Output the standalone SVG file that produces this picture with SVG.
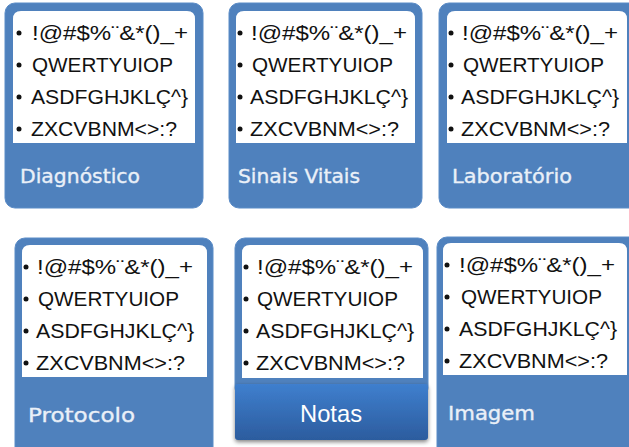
<svg xmlns="http://www.w3.org/2000/svg" width="629" height="447" viewBox="0 0 629 447">
<defs>
<style>
.frame{fill:#4f81bd;stroke:#5b8cc7;stroke-width:1}
.inner{fill:#ffffff}
.t{font-family:"Liberation Sans",Arial,sans-serif;font-size:21px;fill:#111111}
.b{fill:#111111}
.lbl{font-family:"DejaVu Sans",sans-serif;font-size:19px;fill:#eaf0f8;stroke:#eaf0f8;stroke-width:0.35}
.btn{font-family:"Liberation Sans",Arial,sans-serif;font-size:24px;fill:#ffffff}
</style>
<linearGradient id="g" x1="0" y1="0" x2="0" y2="1">
<stop offset="0" stop-color="#3f7fce"/>
<stop offset="1" stop-color="#2c5c9e"/>
</linearGradient>
<filter id="sh" x="-10%" y="-20%" width="120%" height="150%">
<feGaussianBlur in="SourceAlpha" stdDeviation="2"/>
<feOffset dy="2"/>
<feComponentTransfer><feFuncA type="linear" slope="0.5"/></feComponentTransfer>
<feMerge><feMergeNode/><feMergeNode in="SourceGraphic"/></feMerge>
</filter>
</defs>
<rect width="629" height="447" fill="#ffffff"/>

<g id="node-diagnostico">
<rect class="frame" x="5" y="3" width="198" height="205" rx="10"/>
<path class="inner" d="M13 143 V19 Q13 11 21 11 H187 Q195 11 195 19 V143 Z"/>
<circle class="b" cx="19" cy="33" r="2.5"/><text class="t" x="32" y="40" textLength="156" lengthAdjust="spacingAndGlyphs">!@#$%¨&amp;*()_+</text>
<circle class="b" cx="19" cy="65" r="2.5"/><text class="t" x="32" y="72" textLength="141" lengthAdjust="spacingAndGlyphs">QWERTYUIOP</text>
<circle class="b" cx="19" cy="97" r="2.5"/><text class="t" x="31" y="104" textLength="157" lengthAdjust="spacingAndGlyphs">ASDFGHJKLÇ^}</text>
<circle class="b" cx="19" cy="129" r="2.5"/><text class="t" x="31" y="136" textLength="146" lengthAdjust="spacingAndGlyphs">ZXCVBNM&lt;&gt;:?</text>
<text class="lbl" x="20" y="183" textLength="120" lengthAdjust="spacingAndGlyphs">Diagnóstico</text>
</g>

<g id="node-sinais-vitais">
<rect class="frame" x="229" y="3" width="193" height="205" rx="10"/>
<path class="inner" d="M236 143 V19 Q236 11 244 11 H407 Q415 11 415 19 V143 Z"/>
<circle class="b" cx="240" cy="33" r="2.5"/><text class="t" x="251" y="40" textLength="156" lengthAdjust="spacingAndGlyphs">!@#$%¨&amp;*()_+</text>
<circle class="b" cx="240" cy="65" r="2.5"/><text class="t" x="252" y="72" textLength="141" lengthAdjust="spacingAndGlyphs">QWERTYUIOP</text>
<circle class="b" cx="240" cy="97" r="2.5"/><text class="t" x="250" y="104" textLength="158" lengthAdjust="spacingAndGlyphs">ASDFGHJKLÇ^}</text>
<circle class="b" cx="240" cy="129" r="2.5"/><text class="t" x="250" y="136" textLength="149" lengthAdjust="spacingAndGlyphs">ZXCVBNM&lt;&gt;:?</text>
<text class="lbl" x="238" y="183" textLength="122" lengthAdjust="spacingAndGlyphs">Sinais Vitais</text>
</g>

<g id="node-laboratorio">
<rect class="frame" x="439" y="3" width="200" height="205" rx="10"/>
<path class="inner" d="M447 143 V19 Q447 11 455 11 H619 Q627 11 627 19 V143 Z"/>
<circle class="b" cx="451" cy="33" r="2.5"/><text class="t" x="462" y="40" textLength="156" lengthAdjust="spacingAndGlyphs">!@#$%¨&amp;*()_+</text>
<circle class="b" cx="451" cy="65" r="2.5"/><text class="t" x="463" y="72" textLength="141" lengthAdjust="spacingAndGlyphs">QWERTYUIOP</text>
<circle class="b" cx="451" cy="97" r="2.5"/><text class="t" x="461" y="104" textLength="158" lengthAdjust="spacingAndGlyphs">ASDFGHJKLÇ^}</text>
<circle class="b" cx="451" cy="129" r="2.5"/><text class="t" x="461" y="136" textLength="149" lengthAdjust="spacingAndGlyphs">ZXCVBNM&lt;&gt;:?</text>
<text class="lbl" x="452" y="183" textLength="120" lengthAdjust="spacingAndGlyphs">Laboratório</text>
</g>

<g id="node-protocolo">
<rect class="frame" x="15" y="238" width="198" height="220" rx="10"/>
<path class="inner" d="M22 377 V253 Q22 245 30 245 H199 Q207 245 207 253 V377 Z"/>
<circle class="b" cx="26" cy="267" r="2.5"/><text class="t" x="37" y="274" textLength="156" lengthAdjust="spacingAndGlyphs">!@#$%¨&amp;*()_+</text>
<circle class="b" cx="26" cy="299" r="2.5"/><text class="t" x="38" y="306" textLength="141" lengthAdjust="spacingAndGlyphs">QWERTYUIOP</text>
<circle class="b" cx="26" cy="331" r="2.5"/><text class="t" x="36" y="338" textLength="158" lengthAdjust="spacingAndGlyphs">ASDFGHJKLÇ^}</text>
<circle class="b" cx="26" cy="363" r="2.5"/><text class="t" x="36" y="370" textLength="149" lengthAdjust="spacingAndGlyphs">ZXCVBNM&lt;&gt;:?</text>
<text class="lbl" x="28" y="422" textLength="107" lengthAdjust="spacingAndGlyphs">Protocolo</text>
</g>

<g id="node-notas">
<rect class="frame" x="235" y="238" width="193" height="160" rx="10"/>
<path class="inner" d="M242 378 V253 Q242 245 250 245 H415 Q423 245 423 253 V378 Z"/>
<circle class="b" cx="246" cy="267" r="2.5"/><text class="t" x="257" y="274" textLength="156" lengthAdjust="spacingAndGlyphs">!@#$%¨&amp;*()_+</text>
<circle class="b" cx="246" cy="299" r="2.5"/><text class="t" x="257" y="306" textLength="141" lengthAdjust="spacingAndGlyphs">QWERTYUIOP</text>
<circle class="b" cx="246" cy="331" r="2.5"/><text class="t" x="256" y="338" textLength="158" lengthAdjust="spacingAndGlyphs">ASDFGHJKLÇ^}</text>
<circle class="b" cx="246" cy="363" r="2.5"/><text class="t" x="256" y="370" textLength="149" lengthAdjust="spacingAndGlyphs">ZXCVBNM&lt;&gt;:?</text>
<rect x="235" y="384" width="193" height="56" rx="3" fill="url(#g)" filter="url(#sh)"/>
<text class="btn" x="331" y="422" text-anchor="middle" textLength="62" lengthAdjust="spacingAndGlyphs">Notas</text>
</g>

<g id="node-imagem">
<rect class="frame" x="437" y="237" width="202" height="220" rx="10"/>
<path class="inner" d="M443 375 V251 Q443 243 451 243 H619 Q627 243 627 251 V375 Z"/>
<circle class="b" cx="447" cy="265" r="2.5"/><text class="t" x="459" y="272" textLength="156" lengthAdjust="spacingAndGlyphs">!@#$%¨&amp;*()_+</text>
<circle class="b" cx="447" cy="297" r="2.5"/><text class="t" x="461" y="304" textLength="141" lengthAdjust="spacingAndGlyphs">QWERTYUIOP</text>
<circle class="b" cx="447" cy="329" r="2.5"/><text class="t" x="459" y="336" textLength="158" lengthAdjust="spacingAndGlyphs">ASDFGHJKLÇ^}</text>
<circle class="b" cx="447" cy="361" r="2.5"/><text class="t" x="459" y="368" textLength="149" lengthAdjust="spacingAndGlyphs">ZXCVBNM&lt;&gt;:?</text>
<text class="lbl" x="448" y="420" textLength="87" lengthAdjust="spacingAndGlyphs">Imagem</text>
</g>

<g id="connectors"/>
</svg>
